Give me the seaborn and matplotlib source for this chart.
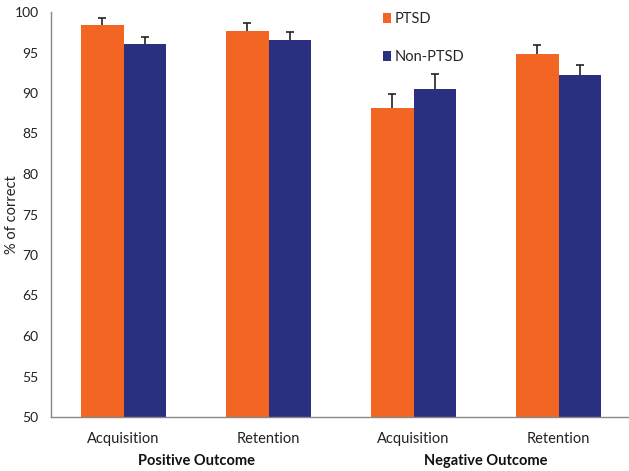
import matplotlib
matplotlib.use("Agg")
import matplotlib.pyplot as plt
from matplotlib.patches import Patch
from matplotlib.ticker import FixedLocator
import seaborn as sns
import pandas as pd

# Task phases within each outcome condition
phases = ["Acquisition", "Retention", "Acquisition", "Retention"]
outcomes = ["Positive Outcome", "Negative Outcome"]
groups = ["PTSD", "Non-PTSD"]

# Mean % correct and standard error per phase
ptsd_mean = [98.4, 97.6, 88.2, 94.8]
ptsd_err = [0.9, 1.0, 1.7, 1.1]
non_ptsd_mean = [96.1, 96.5, 90.5, 92.2]
non_ptsd_err = [0.8, 1.0, 1.9, 1.2]

colors = {"PTSD": "#F26522", "Non-PTSD": "#2B2F80"}

conds = [f"c{i}" for i in range(len(phases))]
df = pd.DataFrame({
    "cond": conds * 2,
    "group": ["PTSD"] * 4 + ["Non-PTSD"] * 4,
    "value": ptsd_mean + non_ptsd_mean,
    "err": ptsd_err + non_ptsd_err,
})

sns.set_style("white")
plt.rcParams["font.family"] = ["Lato", "DejaVu Sans"]

fig = plt.figure(figsize=(6.29, 4.71), dpi=100)
ax = fig.add_axes([51 / 629, 54 / 471, 580 / 629, 405 / 471])

sns.barplot(data=df, x="cond", y="value", hue="group", order=conds,
            hue_order=groups, palette=colors, width=0.58, errorbar=None,
            saturation=1, legend=False, ax=ax, linewidth=0)

# Upper-only error bars on each bar
for container, grp in zip(ax.containers, groups):
    sub = df[df.group == grp].set_index("cond").loc[conds]
    for bar, val, e in zip(container.patches, sub["value"], sub["err"]):
        xc = bar.get_x() + bar.get_width() / 2
        _, caps, _ = ax.errorbar(xc, val, yerr=[[0], [e]], fmt="none",
                                 ecolor="#222222", elinewidth=1.2,
                                 capsize=3, capthick=1.2)
        caps[0].set_visible(False)

ax.set_ylim(50, 100)
ax.set_xlim(-0.5, 3.5)
ax.set_yticks(range(50, 101, 5))
ax.set_xticks(range(4))
ax.set_xticklabels(phases)
ax.xaxis.set_minor_locator(FixedLocator([-0.5, 0.5, 1.5, 2.5, 3.5]))
ax.tick_params(axis="x", which="major", length=0, pad=11, labelsize=10.5,
               colors="#222222")
ax.tick_params(axis="x", which="minor", length=5, width=1, color="#888888",
               direction="out")
ax.tick_params(axis="y", length=4, width=1, color="#888888", direction="out",
               labelsize=10, labelcolor="#222222", pad=5)
ax.set_xlabel("")
ax.set_ylabel("% of correct", fontsize=10.5, color="#222222")
ax.yaxis.label.set_va("center")
ax.yaxis.set_label_coords(-0.068, 0.5)

for side in ["top", "right"]:
    ax.spines[side].set_visible(False)
for side in ["left", "bottom"]:
    ax.spines[side].set_color("#888888")
    ax.spines[side].set_linewidth(1)

# Outcome labels under each pair of phases
for i, name in enumerate(outcomes):
    ax.text(2 * i + 0.5, -0.092, name, transform=ax.get_xaxis_transform(),
            ha="center", va="top", fontsize=10.5, fontweight="bold",
            color="#111111")

handles = [Patch(facecolor=colors[g], edgecolor="none") for g in groups]
fig.legend(handles, groups, loc="upper left",
           bbox_to_anchor=(370 / 629, 1 + 1 / 471), frameon=False,
           fontsize=10.5, handlelength=0.55, handleheight=0.6,
           handletextpad=0.25, labelspacing=1.65)

fig.savefig("out.png", dpi=100)
